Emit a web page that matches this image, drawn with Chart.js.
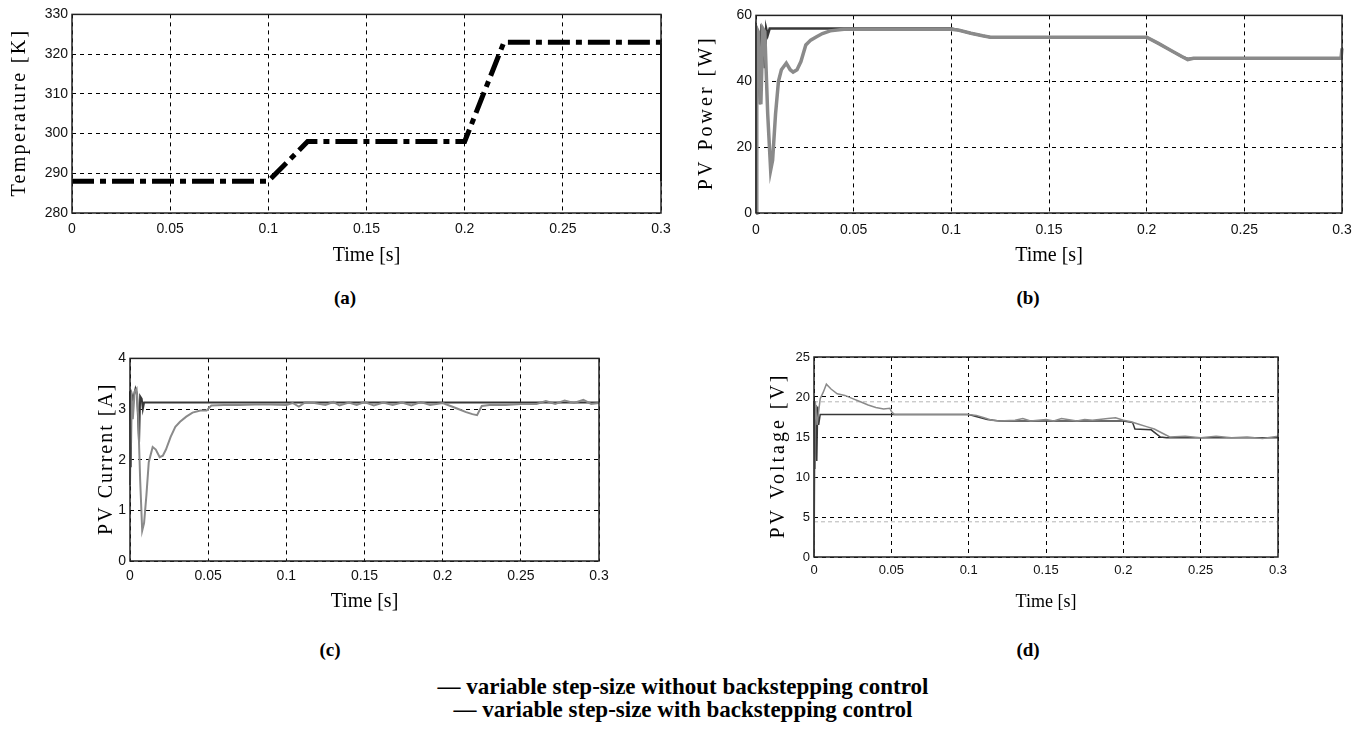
<!DOCTYPE html>
<html>
<head>
<meta charset="utf-8">
<script src="https://cdn.jsdelivr.net/npm/chart.js@4.4.1/dist/chart.umd.min.js"></script>
<style>
  body { margin: 0; background: #fff; width: 1361px; height: 732px; position: relative; overflow: hidden; font-family: "Liberation Serif", serif; }
  .panel { position: absolute; }
  .cap { position: absolute; font-weight: bold; font-size: 19px; transform: translate(-50%, -50%); color: #000; }
  .legend { position: absolute; left: 0; width: 1366px; text-align: center; font-weight: bold; font-size: 23px; color: #000; }
</style>
</head>
<body>
<div class="panel" id="panelA"><canvas id="tempChart"></canvas></div>
<div class="panel" id="panelB"><canvas id="powerChart"></canvas></div>
<div class="panel" id="panelC"><canvas id="currentChart"></canvas></div>
<div class="panel" id="panelD"><canvas id="voltageChart"></canvas></div>

<div class="cap" style="left:345px;top:298px">(a)</div>
<div class="cap" style="left:1028px;top:298px">(b)</div>
<div class="cap" style="left:330px;top:650px">(c)</div>
<div class="cap" style="left:1028px;top:650px">(d)</div>
<div class="legend" style="top:674px">— variable step-size without backstepping control</div>
<div class="legend" style="top:697px">— variable step-size with backstepping control</div>

<script>
// shared time axis
const timeTicks = [0, 0.05, 0.1, 0.15, 0.2, 0.25, 0.3];
const timeTickLabels = ['0', '0.05', '0.1', '0.15', '0.2', '0.25', '0.3'];

// (a) temperature
const tempTime = [0, 0.1, 0.12, 0.2, 0.22, 0.3, 0.3];
const tempK = [288, 288, 298, 298, 323, 323, 288];
const tempTicks = [280, 290, 300, 310, 320, 330];

// (b) PV power
const powerWithoutTime = [0, 0.0004, 0.0012, 0.0025, 0.0035, 0.0045, 0.006, 0.0075, 0.0085, 0.01, 0.0115, 0.013, 0.0155, 0.0175, 0.019, 0.021, 0.023, 0.0255, 0.028, 0.031, 0.034, 0.038, 0.045, 0.1, 0.104, 0.11, 0.116, 0.12, 0.2, 0.206, 0.212, 0.218, 0.221, 0.224, 0.2995, 0.3];
const powerWithout = [0, 56, 55, 33, 56, 55, 30, 13, 16, 30, 40, 43.5, 45.5, 43.5, 42.8, 43.5, 46, 51, 52.5, 53.5, 54.5, 55.3, 55.8, 55.8, 55.5, 54.6, 53.8, 53.4, 53.4, 51.5, 49.5, 47.5, 46.6, 47, 47, 50];
const powerWithTime = [0, 0.0004, 0.001, 0.002, 0.0028, 0.0036, 0.0045, 0.0052, 0.006, 0.007, 0.1, 0.104, 0.11, 0.116, 0.12, 0.2, 0.206, 0.212, 0.218, 0.221, 0.224, 0.3];
const powerWith = [0, 56, 55, 33, 56, 55, 44, 56, 54, 56, 56, 55.5, 54.6, 53.8, 53.4, 53.4, 51.5, 49.5, 47.5, 46.8, 47, 47];
const powerTicks = [0, 20, 40, 60];

// (c) PV current
const currentWithoutTime = [0, 0.0008, 0.0018, 0.003, 0.0042, 0.0052, 0.0065, 0.0078, 0.009, 0.0105, 0.012, 0.0145, 0.0165, 0.019, 0.021, 0.023, 0.026, 0.029, 0.032, 0.036, 0.04, 0.045, 0.049, 0.052, 0.06, 0.07, 0.08, 0.09, 0.1, 0.104, 0.108, 0.112, 0.118, 0.125, 0.13, 0.134, 0.14, 0.145, 0.15, 0.156, 0.162, 0.168, 0.174, 0.18, 0.186, 0.192, 0.2, 0.205, 0.21, 0.215, 0.219, 0.222, 0.225, 0.23, 0.24, 0.25, 0.26, 0.266, 0.272, 0.278, 0.284, 0.29, 0.295, 0.3];
const currentWithout = [1.5, 3.35, 2.8, 3.35, 3.4, 2.9, 1.6, 0.6, 0.75, 1.3, 1.95, 2.25, 2.2, 2.05, 2.08, 2.2, 2.45, 2.65, 2.75, 2.85, 2.93, 2.97, 2.97, 3.07, 3.08, 3.08, 3.09, 3.09, 3.08, 3.12, 3.05, 3.13, 3.12, 3.08, 3.14, 3.07, 3.13, 3.08, 3.14, 3.07, 3.13, 3.08, 3.13, 3.07, 3.14, 3.08, 3.12, 3.06, 3.0, 2.94, 2.9, 2.88, 3.06, 3.08, 3.08, 3.1, 3.1, 3.16, 3.1, 3.17, 3.12, 3.18, 3.1, 3.12];
const currentWithTime = [0, 0.0005, 0.001, 0.002, 0.0035, 0.0045, 0.0058, 0.0065, 0.0075, 0.0082, 0.009, 0.3];
const currentWith = [3.35, 1.85, 3.3, 3.2, 3.4, 3.3, 2.35, 3.25, 3.2, 3.0, 3.13, 3.13];
const currentTicks = [0, 1, 2, 3, 4];

// (d) PV voltage
const voltageWithoutTime = [0, 0.0008, 0.002, 0.004, 0.006, 0.008, 0.011, 0.015, 0.02, 0.025, 0.03, 0.035, 0.04, 0.045, 0.049, 0.05, 0.052, 0.1, 0.105, 0.11, 0.115, 0.12, 0.13, 0.135, 0.14, 0.15, 0.155, 0.16, 0.17, 0.175, 0.18, 0.19, 0.195, 0.2, 0.205, 0.21, 0.215, 0.22, 0.225, 0.23, 0.24, 0.25, 0.26, 0.27, 0.28, 0.29, 0.3];
const voltageWithout = [0, 19.5, 16.5, 19.8, 20.6, 21.6, 21.0, 20.4, 20.2, 19.8, 19.4, 19.0, 18.7, 18.5, 18.6, 18.2, 17.8, 17.8, 17.7, 17.4, 17.1, 17.0, 17.1, 17.3, 17.0, 17.2, 17.0, 17.3, 17.0, 17.2, 17.1, 17.3, 17.4, 17.1, 16.9, 16.6, 16.3, 16.0, 15.5, 15.0, 15.1, 14.9, 15.1, 14.9, 15.0, 14.8, 15.1];
const voltageWithTime = [0, 0.0006, 0.0012, 0.0018, 0.0024, 0.003, 0.004, 0.1, 0.106, 0.112, 0.12, 0.2, 0.206, 0.2075, 0.218, 0.224, 0.228, 0.3];
const voltageWith = [19.5, 11.0, 19.0, 12.0, 18.8, 16.5, 17.8, 17.8, 17.5, 17.2, 17.0, 17.0, 16.8, 16.0, 15.9, 15.0, 14.9, 14.9];
const voltageGhostLevels = [19.4, 4.4]; // faint dashed lines in the scanned panel
const voltageTicks = [0, 5, 10, 15, 20, 25];

const GRAY = '#8a8a8a';
const DARK = '#383838';

function points(xs, ys) {
    return xs.map((x, i) => ({x: x, y: ys[i]}));
}

const frame = {
    id: 'frame',
    afterDraw(chart) {
        const {ctx, chartArea} = chart;
        ctx.save();
        ctx.strokeStyle = '#222';
        ctx.lineWidth = 1.5;
        ctx.strokeRect(chartArea.left, chartArea.top, chartArea.right - chartArea.left, chartArea.bottom - chartArea.top);
        ctx.restore();
    }
};

// rotated y title with the wide letter spacing of the original figure
const yTitle = {
    id: 'yTitle',
    afterDraw(chart, args, opts) {
        const {ctx, chartArea} = chart;
        ctx.save();
        ctx.font = opts.size + 'px "Liberation Serif"';
        ctx.letterSpacing = opts.spacing + 'px';
        ctx.fillStyle = '#000';
        ctx.textAlign = 'center';
        ctx.textBaseline = 'middle';
        ctx.translate(opts.x, (chartArea.top + chartArea.bottom) / 2);
        ctx.rotate(-Math.PI / 2);
        ctx.fillText(opts.text, opts.spacing / 2, 0);
        ctx.restore();
    }
};

// plot box in page pixels, plus room for the axes
function makeChart(panelId, canvasId, box, yTicks, titleY, datasets, look) {
    const padTop = 12, padRight = 22;
    const panel = document.getElementById(panelId);
    const panelLeft = box.l - box.yW;
    panel.style.left = panelLeft + 'px';
    panel.style.top = (box.t - padTop) + 'px';
    panel.style.width = (box.r - box.l + box.yW + padRight) + 'px';
    panel.style.height = (box.b - box.t + padTop + box.xH) + 'px';

    const tickFont = {family: 'Liberation Sans', size: look.tickSize};

    const config = {
        type: 'line',
        data: {datasets: datasets},
        options: {
            responsive: true,
            maintainAspectRatio: false,
            animation: false,
            layout: {padding: {top: padTop, right: padRight, left: 0, bottom: 0}},
            plugins: {
                legend: {display: false},
                tooltip: {enabled: false},
                yTitle: {text: titleY, x: box.titleX - panelLeft, size: look.yTitleSize, spacing: look.yTitleSpacing}
            },
            elements: {point: {radius: 0}, line: {tension: 0}},
            scales: {
                x: {
                    type: 'linear', min: 0, max: 0.3,
                    afterBuildTicks: s => { s.ticks = timeTicks.map(v => ({value: v})); },
                    afterFit: s => { s.height = box.xH; },
                    ticks: {
                        autoSkip: false, maxRotation: 0, padding: box.xPad, color: '#111', font: tickFont,
                        callback: (v, i) => timeTickLabels[i]
                    },
                    grid: {color: '#000', lineWidth: 1, drawTicks: false},
                    border: {display: false, dash: [4, 4]},
                    title: {display: true, text: 'Time [s]', color: '#000',
                        font: {family: 'Liberation Serif', size: look.xTitleSize}, padding: {top: 2, bottom: 4}}
                },
                y: {
                    type: 'linear', min: yTicks[0], max: yTicks[yTicks.length - 1],
                    afterBuildTicks: s => { s.ticks = yTicks.map(v => ({value: v})); },
                    afterFit: s => { s.width = box.yW; },
                    ticks: {autoSkip: false, padding: 4, color: '#111', font: tickFont, callback: v => String(v)},
                    grid: {color: '#000', lineWidth: 1, drawTicks: false},
                    border: {display: false, dash: [4, 4]}
                }
            }
        },
        plugins: [frame, yTitle]
    };

    const ctx = document.getElementById(canvasId).getContext('2d');
    return new Chart(ctx, config);
}

makeChart('panelA', 'tempChart',
    {l: 72, t: 14, r: 661, b: 213, yW: 67, xH: 59, xPad: 8, titleX: 20},
    tempTicks, 'Temperature [K]',
    [{
        label: 'Temperature',
        data: points(tempTime, tempK),
        borderColor: '#000', borderWidth: 5, borderDash: [22, 6, 6, 6], borderCapStyle: 'butt', clip: 4,
        segment: {
            borderWidth: c => (c.p0.parsed.x === c.p1.parsed.x ? 2 : undefined),
            borderDash: c => (c.p0.parsed.x === c.p1.parsed.x ? [] : undefined)
        }
    }],
    {tickSize: 14, xTitleSize: 20, yTitleSize: 20, yTitleSpacing: 2.3});

makeChart('panelB', 'powerChart',
    {l: 756, t: 15, r: 1342, b: 213, yW: 64, xH: 59, xPad: 9, titleX: 707},
    powerTicks, 'PV Power [W]',
    [
        {label: 'variable step-size without backstepping control', data: points(powerWithoutTime, powerWithout), borderColor: GRAY, borderWidth: 3.5, clip: 4},
        {label: 'variable step-size with backstepping control', data: points(powerWithTime, powerWith), borderColor: DARK, borderWidth: 2.5, clip: 4}
    ],
    {tickSize: 14, xTitleSize: 20, yTitleSize: 20, yTitleSpacing: 3});

makeChart('panelC', 'currentChart',
    {l: 130, t: 358, r: 599, b: 561, yW: 39, xH: 57, xPad: 7, titleX: 107},
    currentTicks, 'PV Current [A]',
    [
        {label: 'variable step-size without backstepping control', data: points(currentWithoutTime, currentWithout), borderColor: GRAY, borderWidth: 2, clip: 4},
        {label: 'variable step-size with backstepping control', data: points(currentWithTime, currentWith), borderColor: DARK, borderWidth: 2, clip: 4}
    ],
    {tickSize: 14, xTitleSize: 20, yTitleSize: 20, yTitleSpacing: 2});

makeChart('panelD', 'voltageChart',
    {l: 814, t: 357, r: 1278, b: 557, yW: 49, xH: 60, xPad: 6, titleX: 779},
    voltageTicks, 'PV Voltage [V]',
    [
        {label: 'variable step-size without backstepping control', data: points(voltageWithoutTime, voltageWithout), borderColor: GRAY, borderWidth: 1.5, clip: 4},
        {label: 'variable step-size with backstepping control', data: points(voltageWithTime, voltageWith), borderColor: DARK, borderWidth: 1.5, clip: 4},
        {label: 'ghost upper', data: points([0, 0.3], [voltageGhostLevels[0], voltageGhostLevels[0]]), borderColor: '#b5b5b5', borderWidth: 1, borderDash: [4, 3]},
        {label: 'ghost lower', data: points([0, 0.3], [voltageGhostLevels[1], voltageGhostLevels[1]]), borderColor: '#b5b5b5', borderWidth: 1, borderDash: [4, 3]}
    ],
    {tickSize: 13, xTitleSize: 18, yTitleSize: 20, yTitleSpacing: 3});
</script>
</body>
</html>
